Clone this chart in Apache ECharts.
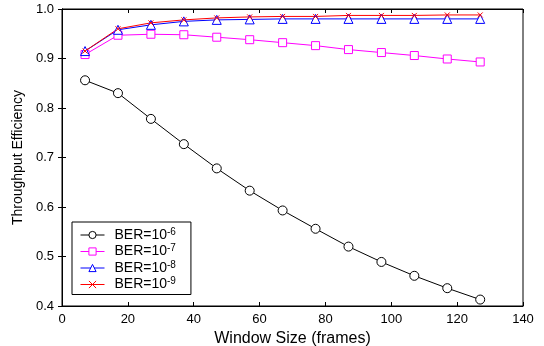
<!DOCTYPE html>
<html>
<head>
<meta charset="utf-8">
<script src="https://cdn.jsdelivr.net/npm/echarts@6/dist/echarts.min.js"></script>
<style>
  html, body { margin: 0; padding: 0; background: #fff; }
  #main { width: 544px; height: 346px; }
</style>
</head>
<body>
<div id="main"></div>
<script>
// window sizes (frames)
var windowSizes = [7, 17, 27, 37, 47, 57, 67, 77, 87, 97, 107, 117, 127];

// throughput efficiency per BER
var ber6 = [0.856, 0.830, 0.778, 0.727, 0.678, 0.633, 0.593, 0.556, 0.520, 0.489, 0.461, 0.436, 0.413];
var ber7 = [0.908, 0.947, 0.949, 0.948, 0.943, 0.938, 0.932, 0.926, 0.918, 0.912, 0.906, 0.899, 0.893];
var ber8 = [0.915, 0.958, 0.968, 0.975, 0.978, 0.979, 0.980, 0.980, 0.980, 0.980, 0.980, 0.980, 0.980];
var ber9 = [0.915, 0.960, 0.972, 0.978, 0.982, 0.984, 0.985, 0.985, 0.987, 0.987, 0.987, 0.988, 0.988];

var berNames = ['BER=10-6', 'BER=10-7', 'BER=10-8', 'BER=10-9'];

function pairs(ys) {
    return windowSizes.map(function (x, i) { return [x, ys[i]]; });
}

var chartDom = document.getElementById('main');
var myChart = echarts.init(chartDom, null, {renderer: 'canvas'});

var font = 'Liberation Sans, Arial, sans-serif';

function mkSeries(name, ys, color, symbol, size, fill) {
    return {
        name: name,
        type: 'line',
        data: pairs(ys),
        symbol: symbol,
        symbolSize: size,
        showAllSymbol: true,
        animation: false,
        lineStyle: {color: color, width: 1},
        itemStyle: {color: fill, borderColor: color, borderWidth: 1},
        emphasis: {disabled: true}
    };
}

var option = {
    backgroundColor: '#fff',
    animation: false,
    textStyle: {fontFamily: font},
    grid: {
        left: 62,
        right: 21,
        top: 9,
        bottom: 40,
        outerBoundsMode: 'none',
        containLabel: false,
        show: true,
        borderColor: '#000',
        borderWidth: 1
    },
    legend: {
        orient: 'vertical',
        left: 72,
        top: 222,
        padding: [5, 15, 3, 8],
        itemGap: 1.5,
        itemWidth: 24,
        itemHeight: 9,
        backgroundColor: '#fff',
        borderColor: '#000',
        borderWidth: 1,
        borderRadius: 0,
        lineStyle: {width: 1},
        itemStyle: {borderWidth: 1},
        data: berNames,
        formatter: function (name) {
            var exp = name.replace('BER=10', '');
            return '{b|BER=10}{s|' + exp + '}';
        },
        textStyle: {
            fontFamily: font,
            color: '#000',
            rich: {
                b: {fontSize: 14, fontFamily: font, color: '#000', padding: [0, 0, 0, 5]},
                s: {fontSize: 10, fontFamily: font, color: '#000', padding: [0, 0, 6, 0]}
            }
        }
    },
    xAxis: [
        {
            type: 'value',
            min: 0,
            max: 140,
            interval: 20,
            name: 'Window Size (frames)',
            nameLocation: 'middle',
            nameGap: 14,
            nameTextStyle: {fontSize: 16, color: '#000', fontFamily: font},
            axisLine: {lineStyle: {color: '#000', width: 1}},
            axisTick: {inside: true, length: 4, lineStyle: {color: '#000'}},
            axisLabel: {fontSize: 13, color: '#000', margin: 7, fontFamily: font},
            splitLine: {show: false}
        },
        {
            type: 'value',
            position: 'top',
            min: 0,
            max: 140,
            interval: 20,
            axisLine: {show: true, lineStyle: {color: '#000'}},
            axisTick: {inside: true, length: 4, lineStyle: {color: '#000'}},
            axisLabel: {show: false},
            splitLine: {show: false}
        }
    ],
    yAxis: [
        {
            type: 'value',
            min: 0.4,
            max: 1.0,
            interval: 0.1,
            name: 'Throughput Efficiency',
            nameLocation: 'middle',
            nameGap: 35,
            nameRotate: 90,
            nameTextStyle: {fontSize: 14, color: '#000', fontFamily: font},
            axisLine: {show: true, lineStyle: {color: '#000', width: 1}},
            axisTick: {show: true, inside: true, length: 4, lineStyle: {color: '#000'}},
            axisLabel: {
                fontSize: 13, color: '#000', margin: 8, fontFamily: font,
                formatter: function (v) { return v.toFixed(1); }
            },
            splitLine: {show: false}
        },
        {
            type: 'value',
            position: 'right',
            min: 0.4,
            max: 1.0,
            interval: 0.1,
            axisLine: {show: true, lineStyle: {color: '#000'}},
            axisTick: {show: true, inside: true, length: 4, lineStyle: {color: '#000'}},
            axisLabel: {show: false},
            splitLine: {show: false}
        }
    ],
    series: [
        mkSeries(berNames[0], ber6, '#000000', 'circle', 9, '#fff'),
        mkSeries(berNames[1], ber7, '#ff00ff', 'rect', 8, '#fff'),
        mkSeries(berNames[2], ber8, '#0000ff', 'triangle', 9, '#fff'),
        mkSeries(berNames[3], ber9, '#ff0000', 'path://M0,0L10,10M10,0L0,10', 5, '#ff0000')
    ]
};

option && myChart.setOption(option);
</script>
</body>
</html>
